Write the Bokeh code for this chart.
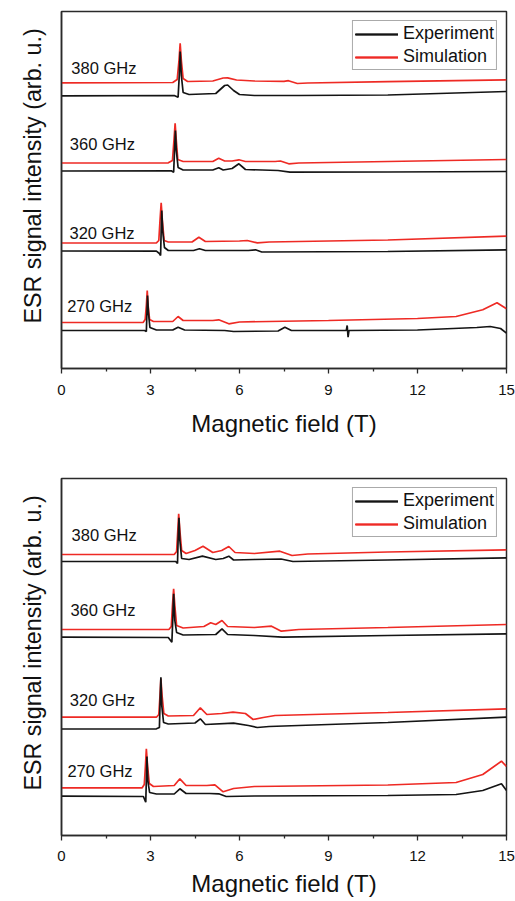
from bokeh.plotting import figure
from bokeh.models import Range1d, FixedTicker, Legend, LegendItem, Title
from bokeh.layouts import column
from bokeh.embed import file_html
from bokeh.resources import INLINE
from bokeh.core.properties import value

FONT = "Liberation Sans"
RED = "#ee2a24"
BLACK = "#141414"
AXIS = "#2a2a2a"

x_ticks = [0, 3, 6, 9, 12, 15]
x_minor = [1.5, 4.5, 7.5, 10.5, 13.5]
freq_labels = ["380 GHz", "360 GHz", "320 GHz", "270 GHz"]

# ---------------- top panel (field in T, intensity in arb. u.) ----------------
t_sim_380_x = [0, 3.75, 3.9, 3.96, 4.0, 4.04, 4.1, 4.25, 5.1, 5.45, 5.6, 5.9, 6.5, 7.5, 7.65, 7.95, 8.3, 11, 15]
t_sim_380_y = [285.7, 286, 289, 308, 325.3, 308, 290, 287, 287.5, 290.5, 290.7, 288.5, 287.5, 287.2, 287.8, 285, 285.5, 286.8, 288.7]
t_exp_380_x = [0, 3.8, 3.93, 3.97, 4.0, 4.04, 4.1, 4.3, 5.2, 5.5, 5.6, 5.8, 6.0, 6.5, 8.0, 11, 15]
t_exp_380_y = [272.7, 273, 271.3, 293, 317, 293, 276, 274, 275, 283, 283.5, 278, 274, 273, 273, 273.5, 277]

t_sim_360_x = [0, 3.6, 3.74, 3.79, 3.83, 3.87, 3.92, 4.1, 5.1, 5.3, 5.5, 5.75, 5.98, 6.2, 7.2, 7.38, 7.66, 8.0, 11, 15]
t_sim_360_y = [205.5, 205.7, 208, 228, 245.3, 228, 209, 207, 207, 210.3, 207.5, 207.5, 208.7, 207, 207, 207.5, 204.7, 205.5, 207, 209]
t_exp_360_x = [0, 3.7, 3.78, 3.81, 3.84, 3.87, 3.93, 4.1, 5.1, 5.3, 5.45, 5.75, 5.98, 6.2, 7.3, 7.7, 11, 15]
t_exp_360_y = [197.5, 197.7, 196.3, 218, 238, 218, 201, 198.5, 198.5, 200.7, 198.5, 200, 204.7, 199, 198, 196.3, 196.5, 197]

t_sim_320_x = [0, 3.2, 3.28, 3.32, 3.36, 3.4, 3.46, 3.6, 4.4, 4.63, 4.85, 6.0, 6.26, 6.6, 7.0, 11, 15]
t_sim_320_y = [125.5, 125.7, 128, 148, 165.7, 148, 128, 126.5, 126.5, 131.3, 127, 127.5, 128, 125.7, 126.5, 128.5, 132.3]
t_exp_320_x = [0, 3.2, 3.3, 3.34, 3.36, 3.38, 3.41, 3.47, 3.6, 4.45, 4.65, 4.85, 6.3, 6.54, 6.75, 11, 15]
t_exp_320_y = [117.5, 117.3, 115, 113, 138, 158, 138, 121, 118, 118, 119.7, 118, 118, 118.7, 116.5, 117, 118.7]

t_sim_270_x = [0, 2.75, 2.82, 2.86, 2.89, 2.92, 2.97, 3.1, 3.75, 3.93, 4.1, 5.1, 5.3, 5.64, 6.0, 9, 12, 13.3, 14.2, 14.68, 15]
t_sim_270_y = [46, 46, 49, 63, 78, 63, 49, 47, 47, 52, 48, 48, 48.7, 44.7, 46.5, 48, 50, 52, 58.7, 65.7, 59.7]
t_exp_270_x = [0, 2.8, 2.86, 2.88, 2.9, 2.93, 2.98, 3.2, 3.75, 3.93, 4.15, 5.5, 5.8, 7.3, 7.53, 7.75, 9.6, 9.63, 9.66, 9.69, 12, 14.0, 14.45, 14.8, 15]
t_exp_270_y = [38, 38, 37, 56, 73, 56, 41, 38.5, 38.5, 41.3, 38.5, 38, 37, 37.5, 41.3, 38, 38, 43, 31.3, 38, 38.5, 41, 42, 40, 35.3]

t_label_x = [0.33, 0.28, 0.27, 0.19]
t_label_y = [300.3, 224.7, 135.7, 63]

# ---------------- bottom panel ----------------
b_sim_380_x = [0, 3.8, 3.88, 3.92, 3.95, 3.99, 4.05, 4.2, 4.5, 4.77, 5.1, 5.4, 5.64, 5.85, 6.5, 7.36, 7.77, 8.3, 11, 15]
b_sim_380_y = [281, 281, 284, 305, 321.7, 305, 285, 282, 285, 289.3, 283, 285, 289, 283, 282, 284.3, 280, 281.5, 283.5, 285.7]
b_exp_380_x = [0, 3.85, 3.91, 3.93, 3.96, 3.99, 4.05, 4.3, 4.75, 5.2, 5.45, 5.64, 5.8, 6.5, 7.4, 7.8, 11, 15]
b_exp_380_y = [274, 274, 272, 295, 317.7, 295, 277, 276, 279.3, 276, 277, 279.3, 275.5, 276, 276.5, 274, 275.5, 277.7]

b_sim_360_x = [0, 3.62, 3.7, 3.74, 3.78, 3.82, 3.88, 4.1, 4.8, 5.03, 5.2, 5.41, 5.6, 6.5, 7.08, 7.41, 8, 11, 15]
b_sim_360_y = [206, 206, 209, 230, 246.7, 230, 210, 207.5, 209, 212.7, 211, 215, 209, 208, 209.3, 204.3, 206, 208, 211]
b_exp_360_x = [0, 3.6, 3.72, 3.75, 3.78, 3.82, 3.88, 4.1, 5.2, 5.41, 5.6, 6.5, 7.45, 11, 15]
b_exp_360_y = [198.3, 198, 193.3, 215, 241.7, 215, 203, 200.5, 201, 206.7, 201, 200, 198.3, 200, 201.7]

b_sim_320_x = [0, 3.2, 3.28, 3.32, 3.35, 3.39, 3.45, 3.6, 4.45, 4.68, 4.9, 5.4, 5.78, 6.2, 6.46, 6.8, 7.2, 11, 15]
b_sim_320_y = [118.3, 118.3, 121, 140, 157, 140, 122, 119.5, 120, 127.7, 121, 122, 123.3, 122, 116, 118, 120, 123, 126.7]
b_exp_320_x = [0, 3.2, 3.3, 3.32, 3.35, 3.38, 3.44, 3.6, 4.5, 4.68, 4.85, 5.8, 6.3, 6.6, 7.0, 11, 15]
b_exp_320_y = [106.5, 106.7, 108, 130, 158.3, 130, 113, 111.5, 112.5, 116.7, 111, 112.3, 110, 108, 109, 113, 118.3]

b_sim_270_x = [0, 2.72, 2.79, 2.83, 2.86, 2.9, 2.96, 3.1, 3.8, 3.99, 4.2, 4.9, 5.17, 5.45, 5.8, 6.5, 11, 13.3, 14.2, 14.83, 15]
b_sim_270_y = [47.7, 47.7, 51, 70, 86.7, 70, 52, 49, 50, 56.7, 50, 50, 50.7, 43.7, 47, 49, 50.5, 53, 61, 74.3, 69]
b_exp_270_x = [0, 2.76, 2.84, 2.86, 2.88, 2.91, 2.97, 3.2, 3.8, 3.99, 4.2, 5.0, 5.3, 5.55, 6.5, 11, 13.3, 14.2, 14.83, 15]
b_exp_270_y = [39.3, 39, 33.3, 55, 79, 55, 43, 41.5, 41.5, 46.7, 42, 42, 41.7, 39, 39.5, 40, 41, 45, 51.7, 45]

b_label_x = [0.34, 0.30, 0.28, 0.20]
b_label_y = [301, 225.7, 135.7, 64.3]

Y_TITLE = "ESR signal intensity (arb. u.)"


def make_panel(sims, exps, lab_x, lab_y, height, b_top, b_bottom, tick_standoff, lab_standoff):
    p = figure(width=515, height=height, x_range=Range1d(0, 15), y_range=Range1d(0, 357),
               output_backend="svg", toolbar_location=None,
               min_border_left=61, min_border_right=9,
               min_border_top=b_top, min_border_bottom=b_bottom)
    p.grid.visible = False
    p.background_fill_color = "white"
    p.border_fill_color = "white"
    p.outline_line_color = AXIS
    p.outline_line_width = 1.5
    p.outline_line_alpha = 1.0

    sim_r, exp_r = [], []
    for (sx, sy) in sims:
        sim_r.append(p.line(sx, sy, line_color=RED, line_width=1.7))
    for (ex, ey) in exps:
        exp_r.append(p.line(ex, ey, line_color=BLACK, line_width=1.7))

    p.text(x=lab_x, y=lab_y, text=freq_labels, text_font=value(FONT),
           text_font_size="16.5px", text_baseline="middle", text_align="left",
           text_color="#111111")

    xa = p.xaxis[0]
    xa.ticker = FixedTicker(ticks=x_ticks, minor_ticks=x_minor)
    xa.axis_label = "Magnetic field (T)"
    xa.axis_label_text_font = FONT
    xa.axis_label_text_font_size = "24px"
    xa.axis_label_text_font_style = "normal"
    xa.axis_label_text_color = "#111111"
    xa.axis_label_standoff = lab_standoff
    xa.major_label_text_font = FONT
    xa.major_label_text_font_size = "15px"
    xa.major_label_text_color = "#111111"
    xa.major_label_standoff = tick_standoff
    xa.major_tick_out = 5
    xa.major_tick_in = 0
    xa.minor_tick_out = 3
    xa.minor_tick_in = 0
    xa.axis_line_color = AXIS
    xa.axis_line_width = 1.5
    xa.major_tick_line_color = AXIS
    xa.major_tick_line_width = 1.3
    xa.minor_tick_line_color = AXIS
    xa.minor_tick_line_width = 1.3

    ya = p.yaxis[0]
    ya.ticker = FixedTicker(ticks=[])
    ya.major_tick_out = 0
    ya.major_tick_in = 0
    ya.minor_tick_out = 0
    ya.minor_tick_in = 0
    ya.major_label_text_font_size = "0px"
    ya.axis_line_color = AXIS
    ya.axis_line_width = 1.5

    # vertical title in the left margin, placed a little above the frame centre
    ytitle = Title(text=Y_TITLE, align="left", offset=45, standoff=31,
                   text_font=FONT, text_font_size="23.3px", text_font_style="normal",
                   text_color="#111111")
    p.add_layout(ytitle, "left")

    legend = Legend(items=[LegendItem(label="Experiment", renderers=exp_r),
                           LegendItem(label="Simulation", renderers=sim_r)],
                    location="top_right")
    legend.label_text_font = FONT
    legend.label_text_font_size = "18px"
    legend.label_text_color = "#111111"
    legend.glyph_width = 43
    legend.glyph_height = 20
    legend.label_height = 20
    legend.label_standoff = 5
    legend.spacing = 2
    legend.padding = 2
    legend.margin = 9
    legend.border_line_color = "#555555"
    legend.border_line_width = 1
    legend.background_fill_color = "white"
    legend.background_fill_alpha = 1.0
    p.add_layout(legend)
    return p


top = make_panel(
    [(t_sim_380_x, t_sim_380_y), (t_sim_360_x, t_sim_360_y), (t_sim_320_x, t_sim_320_y), (t_sim_270_x, t_sim_270_y)],
    [(t_exp_380_x, t_exp_380_y), (t_exp_360_x, t_exp_360_y), (t_exp_320_x, t_exp_320_y), (t_exp_270_x, t_exp_270_y)],
    t_label_x, t_label_y, height=468, b_top=11, b_bottom=100, tick_standoff=11, lab_standoff=12)

bottom = make_panel(
    [(b_sim_380_x, b_sim_380_y), (b_sim_360_x, b_sim_360_y), (b_sim_320_x, b_sim_320_y), (b_sim_270_x, b_sim_270_y)],
    [(b_exp_380_x, b_exp_380_y), (b_exp_360_x, b_exp_360_y), (b_exp_320_x, b_exp_320_y), (b_exp_270_x, b_exp_270_y)],
    b_label_x, b_label_y, height=433, b_top=10, b_bottom=66, tick_standoff=10, lab_standoff=6)

layout = column(top, bottom, spacing=0)
open("out.html", "w").write(file_html(layout, INLINE))
